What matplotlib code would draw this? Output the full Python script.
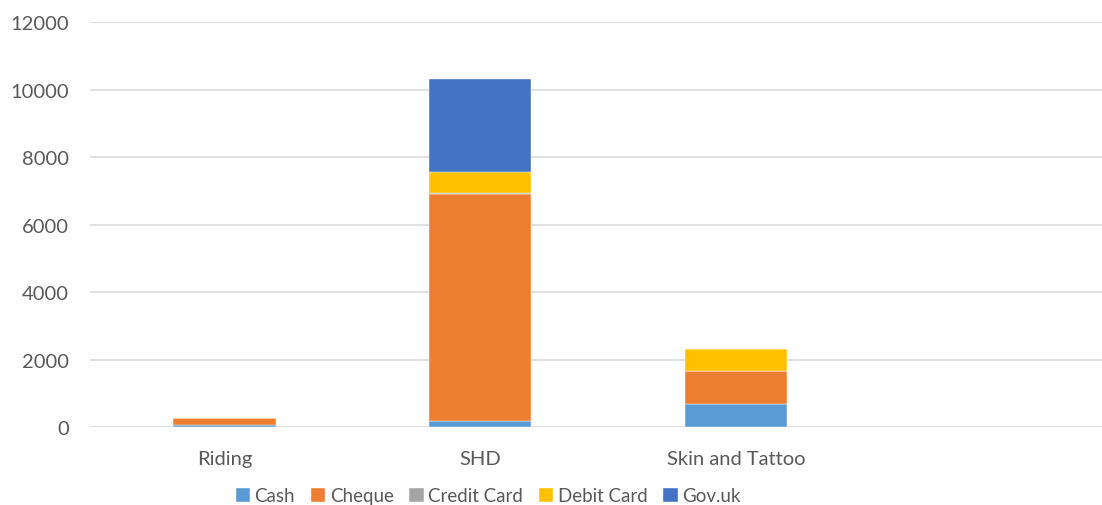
import matplotlib
matplotlib.use("Agg")
import matplotlib.pyplot as plt
import numpy as np

categories = ["Riding", "SHD", "Skin and Tattoo"]
series_names = ["Cash", "Cheque", "Credit Card", "Debit Card", "Gov.uk"]
cash = [80, 190, 680]
cheque = [200, 6710, 990]
credit_card = [0, 50, 0]
debit_card = [0, 610, 650]
gov_uk = [0, 2760, 0]
y_ticks = [0, 2000, 4000, 6000, 8000, 10000, 12000]

colors = ["#5B9BD5", "#ED7D31", "#A5A5A5", "#FFC000", "#4472C4"]

plt.rcParams['font.family'] = ['Lato', 'DejaVu Sans']

fig = plt.figure(figsize=(11.02, 5.06), dpi=100)
ax = fig.add_axes([90/1102, 1 - 428.3/506, 1 - 90/1102, (428.3 - 23.3)/506])

x = np.arange(len(categories))
bottom = np.zeros(len(categories))
for name, vals, c in zip(series_names, [cash, cheque, credit_card, debit_card, gov_uk], colors):
    vals = np.array(vals, dtype=float)
    ax.bar(x, vals, width=0.4, bottom=bottom, color=c, label=name,
           edgecolor='white', linewidth=0.3, zorder=3)
    bottom += vals

ax.set_ylim(0, 12000)
ax.set_xlim(-0.526, 3.432)
ax.set_yticks(y_ticks)
ax.set_yticklabels([str(t) for t in y_ticks])
ax.set_xticks(x)
ax.set_xticklabels(categories)
ax.yaxis.grid(True, color='#D9D9D9', linewidth=1.1, zorder=0)
ax.set_axisbelow(True)
for s in ax.spines.values():
    s.set_visible(False)
ax.tick_params(axis='both', length=0, labelsize=14.5, colors='#595959')
ax.tick_params(axis='y', pad=15)
ax.tick_params(axis='x', pad=16)

fig.legend(loc='center', bbox_to_anchor=(0.443, 0.018), ncol=5, frameon=False,
           fontsize=13.5, labelcolor='#595959', handlelength=0.75, handleheight=0.75,
           handletextpad=0.25, columnspacing=0.85, borderaxespad=0)

fig.savefig("out.png", dpi=100)
